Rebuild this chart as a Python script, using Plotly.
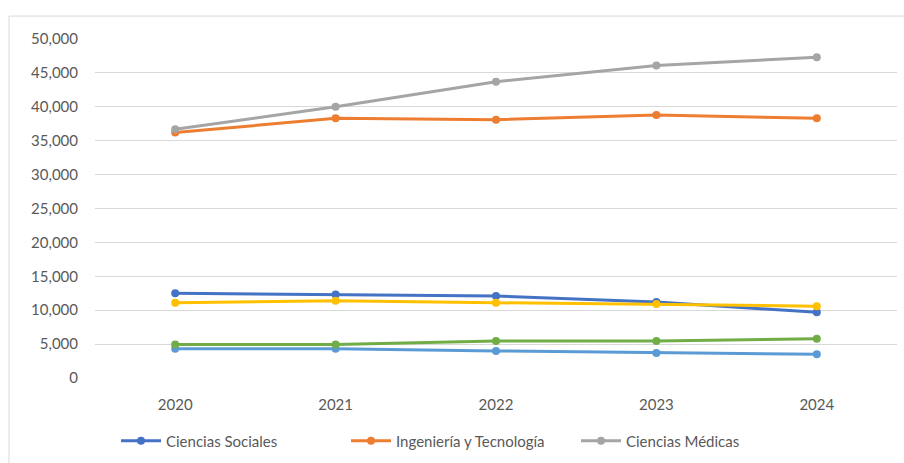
import plotly.graph_objects as go

years = ["2020", "2021", "2022", "2023", "2024"]
sociales = [12500, 12300, 12100, 11200, 9700]
ingenieria = [36200, 38300, 38100, 38800, 38300]
medicas = [36700, 40000, 43700, 46100, 47300]
serie4 = [11100, 11400, 11100, 10900, 10600]
serie5 = [4300, 4300, 4000, 3700, 3500]
serie6 = [4950, 4950, 5450, 5450, 5800]

series = [
    ("Ciencias Sociales", sociales, "#4472C4", True),
    ("Ingeniería y Tecnología", ingenieria, "#ED7D31", True),
    ("Ciencias Médicas", medicas, "#A5A5A5", True),
    ("Ciencias Naturales", serie4, "#FFC000", False),
    ("Ciencias Agrícolas", serie5, "#5B9BD5", False),
    ("Humanidades", serie6, "#70AD47", False),
]

fig = go.Figure()
for name, vals, color, show in series:
    fig.add_trace(go.Scatter(
        x=years, y=vals, name=name, mode="lines+markers",
        line=dict(color=color, width=3),
        marker=dict(color=color, size=8, symbol="circle"),
        showlegend=show,
    ))

W, H = 904, 463
L, R, T, B = 95, 7, 39, 84
pw, ph = W - L - R, H - T - B

def px(x):
    return (x - L) / pw

def py(y):
    return (H - B - y) / ph

FONT = "Lato, Open Sans, sans-serif"

fig.update_layout(
    width=W, height=H,
    margin=dict(l=L, r=R, t=T, b=B),
    paper_bgcolor="white", plot_bgcolor="white",
    font=dict(family=FONT, size=15, color="#595959"),
    xaxis=dict(type="category", range=[-0.5, 4.5], showgrid=False, showline=False,
               ticks="", tickfont=dict(family=FONT, size=15, color="#595959"),
               zeroline=False, ticklabelstandoff=16),
    yaxis=dict(range=[0, 50000], dtick=5000, tickformat=",", showgrid=True,
               gridcolor="#D9D9D9", gridwidth=1, zeroline=False, showline=False,
               ticks="", ticklen=0, ticklabelstandoff=16,
               tickfont=dict(family=FONT, size=15, color="#595959")),
    legend=dict(orientation="h", x=px(116), xanchor="left", y=py(441), yanchor="middle",
                font=dict(family=FONT, size=15, color="#595959"), entrywidth=175,
                entrywidthmode="pixels", itemwidth=40, bgcolor="rgba(0,0,0,0)",
                tracegroupgap=0),
    shapes=[
        dict(type="line", xref="paper", yref="paper", x0=px(9), x1=px(910), y0=py(16), y1=py(16),
             line=dict(color="#D9D9D9", width=1)),
        dict(type="line", xref="paper", yref="paper", x0=px(9), x1=px(9), y0=py(16), y1=py(470),
             line=dict(color="#D9D9D9", width=1)),
    ],
)

fig.write_html("out.html", config={"displayModeBar": False},
               post_script="document.body.style.margin='0';document.body.style.overflow='hidden';")
